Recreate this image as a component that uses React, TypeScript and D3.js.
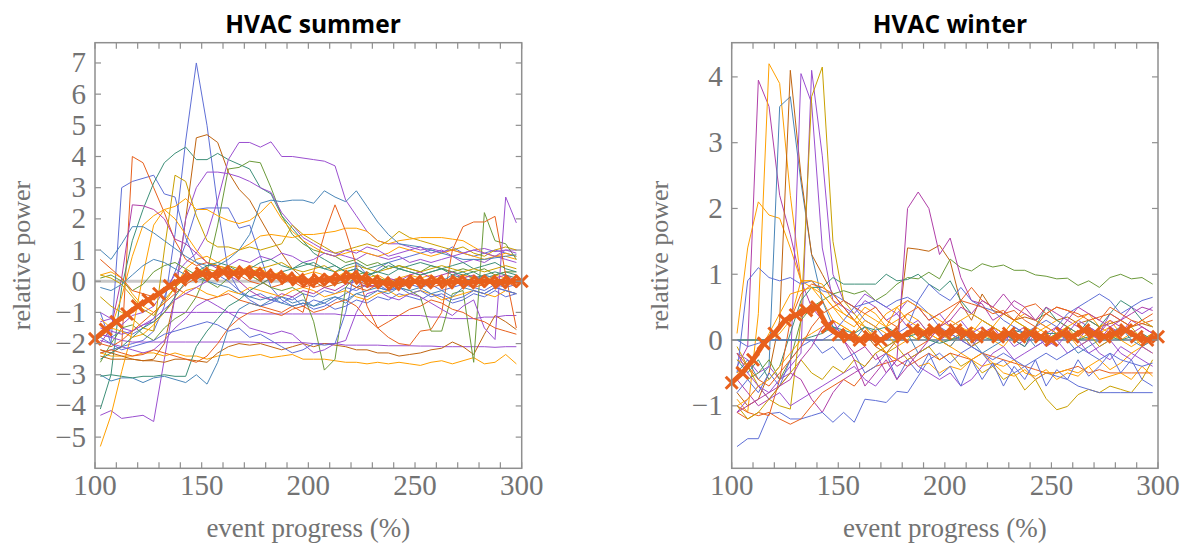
import React from 'react';
import * as d3 from 'd3';

// ---------- shared x grids ----------
const SAMPLE_X = [102.5, 107.5, 112.5, 117.5, 122.5, 127.5, 132.5, 137.5, 142.5, 147.5,
  152.5, 157.5, 162.5, 167.5, 172.5, 177.5, 182.5, 187.5, 192.5, 197.5,
  202.5, 207.5, 212.5, 217.5, 222.5, 227.5, 232.5, 237.5, 242.5, 247.5,
  252.5, 257.5, 262.5, 267.5, 272.5, 277.5, 282.5, 287.5, 292.5, 297.5];
const MEAN_X = [100, 105, 110, 115, 120, 125, 130, 135, 140, 145, 150, 155, 160, 165, 170, 175, 180, 185, 190, 195,
  200, 205, 210, 215, 220, 225, 230, 235, 240, 245, 250, 255, 260, 265, 270, 275, 280, 285, 290, 295, 300];
const X_TICKS = [100, 150, 200, 250, 300];
const X_MINOR = [110, 120, 130, 140, 160, 170, 180, 190, 210, 220, 230, 240, 260, 270, 280, 290];

// ---------- colours ----------
const C = {
  blue: '#5f6fd6', orange: '#ffa000', teal: '#3d8f78', red: '#e8601c', purple: '#9b4fd0',
  brown: '#c0640f', steel: '#4a86b8', gold: '#c9a000', magenta: '#b03fa8', olive: '#6b9a3a',
};

// ---------- HVAC summer ----------
const summerYTicks = [-5, -4, -3, -2, -1, 0, 1, 2, 3, 4, 5, 6, 7];
const s01 = [-2.3, -2.2, -2.1, -2.0, -1.9, -1.6, -0.8, 1.5, 4.5, 7.0, 5.0, 2.4, 0.3, -0.3, -0.6, -0.8, -0.7, -0.5, -0.6, -0.4, -0.5, -0.3, -0.4, -0.2, -0.3, -0.1, -0.2, -0.3, -0.2, -0.1, -0.2, -0.1, -0.3, -0.2, -0.1, -0.2, -0.3, -0.1, -0.2, -0.1];
const s02 = [-1.0, -2.0, 3.0, 3.2, 3.3, 3.4, 2.8, 2.7, 1.4, 0.6, 0.3, 0.2, 0.0, -0.3, -0.5, -0.4, -0.6, -0.7, -0.5, -0.8, -0.6, -0.7, -0.9, -0.8, -0.6, -0.7, -0.5, -0.6, -0.4, -0.5, -0.6, -0.4, -0.5, -0.7, -0.6, -0.4, -0.5, -0.3, -0.5, -0.4];
const s03 = [-1.7, -1.8, -1.6, -1.7, -1.5, -1.2, -0.5, 0.3, 1.2, 2.3, 2.35, 2.35, 2.35, 1.7, 1.8, 0.8, -0.2, -0.6, -0.8, -0.7, -0.9, -0.8, -0.6, -0.4, -0.2, 0.1, 0.4, 0.6, 0.7, 0.8, 0.9, 1.0, 0.9, 1.1, 0.9, 0.8, 0.9, 1.0, 0.9, 0.8];
const s04 = [-2.2, -2.3, -2.1, 4.0, 3.8, 3.0, 2.2, 1.3, 0.7, 0.5, 0.6, 0.5, 0.4, 0.3, 0.2, 0.0, -0.2, -0.1, 0.1, 0.0, -0.2, -0.1, 0.1, 0.2, 0.0, -0.1, -0.2, 0.0, 0.1, -0.1, 0.0, 0.1, -0.1, 0.0, 0.2, 0.1, 0.0, -0.1, 0.1, 0.0];
const s05 = [-4.1, -3.0, -0.2, 1.3, 2.3, 3.15, 3.8, 4.1, 4.3, 3.9, 3.9, 4.1, 3.9, 3.75, 3.6, 3.0, 2.8, 2.1, 1.7, 1.3, 0.9, 0.7, 0.5, 0.3, 0.4, 0.2, 0.3, 0.2, 0.4, 0.3, 0.2, 0.3, 0.4, 0.3, 0.2, 0.3, 0.1, 0.2, 0.3, 0.2];
const s06 = [-2.6, -2.0, -1.5, -1.4, -1.7, -1.9, -1.5, -1.2, -1.0, -0.5, 0.3, 1.8, 3.6, 3.65, 3.85, 3.8, 3.0, 2.1, 1.5, 1.2, 1.0, 0.9, 0.8, 0.6, 0.7, 0.5, 0.6, 0.4, 0.5, 0.4, 0.3, 0.5, 0.4, 0.3, 0.4, 0.3, 0.4, 0.2, 0.3, 0.3];
const s07 = [-2.4, -2.5, -2.5, -2.5, -2.55, -2.5, -2.0, -0.5, 2.0, 4.6, 4.7, 4.45, 3.5, 2.95, 2.6, 2.0, 1.4, 0.9, 0.4, 0.1, 0.0, -0.2, -0.1, 0.0, -0.2, -0.1, 0.0, -0.1, 0.1, 0.0, -0.1, 0.0, 0.1, -0.1, 0.0, 0.1, -0.1, 0.0, 0.1, 0.0];
const s08 = [-1.3, -1.2, -1.4, -1.1, -1.0, -0.8, -0.3, 0.2, 0.6, 0.9, 1.5, 2.6, 3.9, 4.45, 4.45, 4.3, 4.47, 4.0, 4.0, 3.95, 3.9, 3.85, 3.7, 2.6, 2.1, 1.6, 1.3, 1.2, 1.2, 1.1, 1.0, 1.05, 0.95, 1.0, 0.9, 1.0, 1.05, 0.95, 1.0, 1.0];
const s09 = [-4.3, -4.15, -4.4, -4.35, -4.3, -4.5, -2.5, -0.5, 2.0, 3.0, 3.5, 3.5, 3.45, 3.35, 3.2, 3.0, 2.85, 2.2, 1.8, 1.4, 1.2, 1.0, 0.9, 0.8, 0.7, 0.9, 0.8, 0.7, 0.8, 0.6, 0.7, 0.6, 0.7, 0.8, 0.6, 0.7, 0.6, 0.8, 0.7, 0.6];
const s10 = [-5.3, -4.3, -2.9, -1.6, 0.2, 1.8, 2.3, 2.0, 1.5, 1.0, 0.6, 0.5, 0.4, 0.3, 0.5, 0.4, 0.2, 0.3, 0.1, 0.2, 0.3, 0.2, 0.1, 0.3, 0.2, 0.1, 0.2, 0.0, 0.1, 0.2, 0.1, 0.2, 0.0, 0.1, 0.2, 0.1, 0.0, 0.2, 0.1, 0.0];
const s11 = [-0.5, -0.8, -1.0, -1.2, -1.5, -1.6, 1.0, 3.4, 3.2, 2.1, 1.3, 1.1, 1.1, 1.0, 1.1, 1.0, 1.1, 1.2, 1.8, 1.5, 1.3, 1.1, 0.9, 1.0, 1.1, 1.2, 1.1, 1.3, 1.6, 1.4, 1.3, 1.2, 1.1, 1.0, 1.1, 0.9, 0.8, 1.0, 1.1, 1.0];
const s12 = [-1.8, -1.5, -0.5, 0.8, 1.8, 2.1, 2.3, 2.4, 2.65, 2.3, 2.3, 2.1, 1.95, 1.85, 1.95, 2.2, 2.55, 2.0, 1.6, 1.3, 1.1, 0.9, 0.8, 0.9, 1.0, 0.9, 0.8, 0.9, 1.1, 1.0, 0.9, 0.8, 0.9, 1.0, 0.9, 0.8, 0.7, 0.8, 0.9, 0.8];
const s13 = [0.2, 0.3, 0.1, -0.4, -0.8, -1.0, -0.7, -0.2, 0.4, 0.7, 0.8, 0.6, 0.8, 1.0, 1.2, 1.45, 1.5, 1.45, 1.4, 1.5, 1.5, 1.55, 1.6, 1.7, 1.7, 1.6, 1.3, 1.2, 1.3, 1.35, 1.4, 1.4, 1.4, 1.35, 1.3, 1.1, 0.9, 0.8, 0.8, 0.7];
const s14 = [1.0, 0.7, 1.2, 1.75, 1.75, 1.55, 1.3, 1.05, 0.8, 0.6, 0.5, 0.5, 0.7, 1.0, 1.5, 2.5, 2.6, 2.55, 2.6, 2.6, 2.5, 2.9, 2.7, 2.55, 2.9, 2.4, 1.9, 1.5, 1.2, 1.15, 1.1, 1.0, 0.9, 0.8, 0.7, 0.7, 0.7, 0.75, 0.8, 0.85];
const s15 = [-2.0, -1.5, 0.1, 2.45, 2.42, 2.3, 2.0, 1.35, 1.2, 0.9, 0.6, 0.4, 0.2, 0.0, -0.3, -0.5, -0.6, -0.4, -0.5, -0.3, -0.4, -0.2, -0.3, -0.1, 0.0, -0.2, -0.1, 0.1, 0.0, 0.2, 0.3, 0.1, 0.2, 0.3, 0.1, 0.2, 0.0, 0.1, 0.2, 0.0];
const s16 = [-1.7, -1.8, -1.9, -1.95, -1.95, -1.95, -1.95, -1.95, -1.95, -1.95, -1.95, -1.95, -1.95, -1.95, -1.95, -1.97, -1.97, -1.97, -1.97, -1.97, -2.0, -2.0, -2.0, -2.05, -2.05, -2.05, -2.05, -2.07, -2.07, -2.07, -2.08, -2.08, -2.1, -2.1, -2.1, -2.1, -2.1, -2.12, -2.1, -2.1];
const s17 = [-1.5, -1.6, -1.7, -1.6, -1.4, -1.3, -1.0, -1.0, -1.0, -1.0, -1.0, -1.0, -1.0, -1.0, -1.05, -1.05, -1.05, -1.05, -1.05, -1.05, -1.05, -1.05, -1.05, -1.1, -1.1, -1.1, -1.1, -1.1, -1.1, -1.1, -1.1, -1.15, -1.15, -1.2, -1.2, -1.2, -1.15, -1.15, -1.1, -1.1];
const s18 = [-2.3, -2.4, -2.4, -2.4, -2.3, -2.3, -2.4, -2.3, -2.4, -2.4, -2.5, -2.4, -2.35, -2.45, -2.4, -2.35, -2.45, -2.4, -2.35, -2.5, -2.5, -2.5, -2.55, -2.6, -2.6, -2.65, -2.6, -2.65, -2.6, -2.65, -2.7, -2.6, -2.55, -2.65, -2.55, -2.45, -2.65, -2.6, -2.35, -2.65];
const s19 = [-2.2, -2.3, -2.4, -2.5, -2.55, -2.55, -2.6, -2.5, -2.5, -2.55, -2.6, -2.3, -2.1, -2.0, -2.05, -2.0, -2.1, -2.2, -2.1, -2.0, -2.1, -2.0, -2.05, -2.1, -2.2, -2.2, -2.3, -2.3, -2.4, -2.35, -2.3, -2.2, -2.15, -1.95, -2.1, -2.35, -1.7, -1.1, -1.3, -1.55];
const s20 = [0.1, 0.2, 0.0, -0.3, -0.1, 0.3, 0.5, 0.6, 0.4, 0.2, 0.0, -0.2, 0.1, 0.3, 0.2, 0.0, -0.2, -0.3, -0.2, -0.4, -1.3, -2.85, -2.5, -0.2, 0.2, 0.3, 0.1, 0.0, -0.2, -0.3, -0.5, -1.6, -1.6, -0.4, -0.3, -2.6, 2.2, 1.3, 1.2, 0.7];
const s21 = [0.7, 0.4, 0.1, -0.3, -0.4, -0.5, -0.3, -0.2, -0.4, -0.5, -0.6, -0.5, -0.4, -0.6, -0.7, -0.8, -0.9, -1.0, -0.8, -1.0, 0.3, 1.5, 2.45, 1.6, 0.5, -0.8, -1.5, -1.8, -2.0, -2.05, -1.6, -1.55, -1.0, 1.0, 1.75, 1.9, 1.9, 2.08, 0.2, -1.5];
const s22 = [-1.9, -2.0, -2.1, -2.2, -2.3, -2.2, -1.9, -1.5, -1.2, -0.8, -0.6, -0.8, -1.0, -1.2, -1.5, -1.6, -1.7, -1.6, -1.7, -2.0, -2.3, -2.2, -2.0, -1.9, -1.0, -0.4, -0.3, -0.5, -0.6, -0.4, -0.5, -0.7, -0.9, -1.1, -0.8, -0.6, -1.5, -1.87, 2.7, 1.87];
const s23 = [-0.2, -0.3, -0.1, 0.2, 0.5, 0.7, 0.6, 0.4, 0.2, 0.1, 0.0, -0.1, -0.2, -0.4, -0.5, -0.6, -0.5, -0.7, -0.8, -0.7, -0.8, -0.6, -0.5, -0.7, -0.4, -0.3, -0.2, -0.3, -0.1, 0.0, 0.1, -0.1, 0.0, 0.2, 0.1, 0.0, 0.2, 0.1, -0.1, 0.0];
const s24 = [-1.2, -1.5, -1.6, -1.8, -1.7, -1.4, -1.0, -0.6, -0.3, -0.2, -0.4, -0.5, -0.3, -0.4, -0.2, -0.3, -0.4, -0.5, -0.3, -0.2, -0.3, -0.5, -0.4, -0.3, -0.5, -0.6, -0.4, -0.3, -0.5, -0.4, -0.3, -0.4, -0.6, -0.5, -0.4, -0.3, -0.4, -0.5, -0.3, -0.4];
const s25 = [-1.0, -1.2, -1.5, -1.6, -1.4, -1.2, -0.9, -0.6, -0.4, -0.2, 0.0, 0.3, 0.5, 0.7, 0.6, 0.8, 0.7, 0.9, 0.8, 0.6, 0.7, 0.9, 0.8, 1.0, 0.9, 1.1, 1.0, 0.8, 0.9, 1.0, 1.1, 0.9, 1.0, 0.8, 0.9, 1.0, 0.9, 0.8, 1.0, 0.9];
const s26 = [-2.0, -2.1, -1.9, -1.6, -1.3, -1.0, -0.7, -0.4, -0.1, 0.1, 0.2, 0.1, 0.3, 0.2, 0.0, -0.1, 0.1, 0.2, 0.0, -0.2, -0.1, 0.1, 0.2, 0.0, -0.2, -0.3, -0.1, 0.0, -0.2, -0.1, 0.0, -0.2, -0.1, 0.1, 0.0, -0.2, -0.1, 0.1, 0.0, -0.2];
const s27 = [-2.5, -2.3, -2.1, -1.8, -1.5, -1.3, -1.0, -0.5, 0.0, 0.3, 0.5, 0.6, 0.5, 0.3, 0.4, 0.6, 0.7, 0.5, 0.4, 0.6, 0.5, 0.4, 0.3, 0.5, 0.6, 0.4, 0.5, 0.6, 0.4, 0.5, 0.6, 0.5, 0.4, 0.5, 0.6, 0.4, 0.5, 0.6, 0.4, 0.3];
const s28 = [0.2, 0.1, -0.1, -0.5, -0.9, -1.1, -0.6, -0.2, 0.1, 0.3, 0.4, 0.3, 0.5, 0.4, 0.3, 0.4, 0.5, 0.6, 0.4, 0.3, 0.4, 0.5, 0.3, 0.4, 0.5, 0.4, 0.3, 0.4, 0.5, 0.4, 0.3, 0.4, 0.5, 0.4, 0.3, 0.4, 0.3, 0.4, 0.5, 0.4];
const s29 = [-3.0, -3.2, -3.1, -3.1, -3.25, -3.1, -3.05, -3.15, -3.25, -3.0, -3.3, -2.6, -1.5, -0.9, -0.7, -0.8, -0.6, -0.5, -0.7, -0.6, -0.8, -0.7, -0.5, -0.6, -0.4, -0.5, -0.3, -0.4, -0.2, -0.3, -0.2, -0.4, -0.3, -0.5, -0.2, -0.3, -0.4, -0.2, -0.3, -0.4];
const s30 = [-3.05, -3.0, -3.05, -3.1, -3.05, -3.05, -3.0, -3.05, -3.05, -2.1, -1.6, -1.2, -0.8, -0.6, -0.3, -0.1, 0.1, 0.3, 0.4, 0.5, 0.6, 0.4, 0.5, 0.3, 0.4, 0.2, 0.3, 0.5, 0.4, 0.3, 0.2, 0.3, 0.4, 0.2, 0.3, 0.1, 0.2, 0.3, 0.2, 0.1];
const s31 = [-2.3, -2.2, -2.3, -2.4, -2.35, -2.2, -2.3, -2.4, -2.5, -2.6, -2.4, -2.0, -1.5, -1.2, -1.0, -0.9, -1.0, -1.1, -0.9, -0.8, -1.0, -0.9, -0.7, -0.6, -0.8, -1.2, -1.5, -1.3, -1.1, -0.9, -0.8, -0.6, -0.7, -0.9, -1.0, -1.2, -1.3, -1.5, -1.6, -1.7];
const s32 = [-1.8, -2.0, -2.2, -2.1, -2.0, -1.9, -1.7, -1.6, -1.5, -1.4, -1.3, -1.4, -1.6, -1.5, -1.8, -1.7, -1.9, -2.1, -2.3, -2.2, -2.0, -2.05, -2.0, -1.0, 0.6, 0.2, -0.1, -0.3, -0.2, -0.4, -0.3, -0.5, -0.4, -0.6, -0.5, -0.3, -0.4, -0.2, -0.3, -0.4];
const summerSeries = [s01, s02, s03, s04, s05, s06, s07, s08, s09, s10, s11, s12, s13, s14, s15, s16,
  s17, s18, s19, s20, s21, s22, s23, s24, s25, s26, s27, s28, s29, s30, s31, s32];
const summerColors = [C.blue, C.blue, C.blue, C.red, C.teal, C.olive, C.brown, C.purple, C.purple, C.orange,
  C.gold, C.orange, C.orange, C.steel, C.magenta, C.purple, C.purple, C.orange, C.brown, C.olive,
  C.red, C.purple, C.steel, C.orange, C.purple, C.red, C.teal, C.gold, C.steel, C.teal, C.red, C.blue];
const summerMean = [-1.85, -1.55, -1.3, -1.05, -0.8, -0.6, -0.4, -0.15, 0.05, 0.15, 0.25, 0.2, 0.3, 0.25, 0.3, 0.25, 0.2, 0.15, 0.1, 0.05,
  0.0, 0.05, 0.05, 0.1, 0.15, 0.1, 0.0, -0.05, -0.1, -0.05, 0.0, -0.05, 0.0, -0.05, 0.0, -0.05, 0.0, 0.0, -0.05, 0.0, 0.0];

// ---------- HVAC winter ----------
const winterYTicks = [-1, 0, 1, 2, 3, 4];
const w01 = [-0.4, -0.1, 3.95, 3.55, 2.2, 1.6, 0.9, 0.5, 0.3, 0.2, 0.0, -0.2, -0.1, -0.3, -0.2, -0.4, -0.3, -0.2, -0.1, 0.0, 0.1, 0.0, -0.1, 0.1, 0.2, 0.0, 0.1, 0.2, 0.0, 0.1, 0.2, 0.1, 0.0, 0.2, 0.1, 0.3, 0.2, 0.1, 0.2, 0.1];
const w02 = [-0.9, -1.1, 0.4, 4.2, 3.9, 2.2, 0.9, 0.8, 0.6, 0.3, 0.2, 0.1, 0.0, 0.2, 0.1, -0.1, 0.0, 0.2, 0.1, 0.0, -0.1, 0.1, 0.2, 0.1, 0.0, -0.1, 0.1, 0.0, 0.2, 0.1, 0.0, 0.1, -0.1, 0.0, 0.1, 0.2, 0.0, -0.1, 0.0, 0.1];
const w03 = [0.1, 1.4, 2.1, 1.9, 1.85, 1.4, 0.9, 0.9, 0.7, 0.5, 0.4, 0.3, 0.5, 0.4, 0.2, 0.3, 0.4, 0.3, 0.1, 0.2, 0.3, 0.2, 0.1, 0.3, 0.2, 0.4, 0.3, 0.2, 0.1, 0.2, 0.3, 0.2, 0.1, 0.0, 0.2, 0.1, 0.0, 0.1, -0.1, 0.0];
const w04 = [-0.5, -0.3, -0.6, -0.4, 3.55, 3.7, 2.4, 1.3, 0.6, 0.2, 0.1, 0.0, 0.2, 0.1, -0.1, 0.0, 0.1, -0.2, -0.1, 0.0, -0.1, 0.1, 0.0, -0.2, -0.1, 0.0, 0.2, 0.1, -0.1, 0.0, 0.1, 0.0, -0.2, -0.1, 0.0, 0.1, 0.2, 0.0, -0.1, 0.0];
const w05 = [-0.8, -1.0, -0.9, -0.5, 0.3, 4.1, 2.5, 1.3, 1.0, 0.7, 0.5, 0.3, 0.1, -0.1, -0.2, 0.0, 1.4, 1.38, 1.35, 1.44, 1.2, 0.56, 0.3, 0.7, 0.45, 0.4, 0.3, 0.35, 0.3, 0.4, 0.3, 0.35, 0.25, 0.3, 0.2, 0.25, 0.3, 0.2, 0.25, 0.2];
const w06 = [-0.2, -0.3, -0.5, -0.4, -0.6, -0.5, 4.05, 3.6, 1.4, 0.6, 0.5, 0.4, 0.6, 0.5, 0.3, 0.4, 0.2, 0.3, 0.1, 0.2, 0.0, 0.1, -0.1, 0.0, 0.2, 0.1, 0.0, -0.1, 0.1, 0.0, 0.2, 0.1, 0.3, 0.2, 0.1, 0.4, 0.3, 0.5, 0.4, 0.5];
const w07 = [-1.1, -0.9, -0.7, -0.8, -0.6, -0.4, -0.2, 4.1, 2.8, 1.0, 0.6, 0.5, 0.7, 0.6, 0.5, 0.4, 0.6, 0.5, 0.3, 0.4, 0.2, 0.3, 0.1, 0.2, 0.0, 0.1, -0.1, 0.0, 0.1, -0.1, 0.0, -0.2, -0.1, 0.0, -0.2, -0.3, -0.1, -0.2, -0.3, -0.4];
const w08 = [-0.1, -0.4, -0.7, -0.9, -1.0, -1.05, 0.3, 3.7, 4.15, 1.5, 0.6, 0.4, 0.2, 0.0, -0.2, -0.1, -0.3, -0.2, -0.1, -0.3, -0.2, -0.4, -0.3, -0.5, -0.4, -0.6, -0.5, -0.76, -0.6, -0.89, -1.06, -1.01, -0.83, -0.75, -0.8, -0.7, -0.75, -0.8, -0.6, -0.3];
const w09 = [-0.4, -0.6, -0.5, -0.3, -0.6, -0.3, 0.3, 0.5, 0.6, 0.7, 0.75, 0.7, 0.75, 0.6, 0.7, 0.85, 0.95, 0.93, 1.03, 0.93, 1.23, 1.1, 1.05, 1.16, 1.11, 1.14, 1.06, 1.06, 0.99, 0.97, 0.93, 0.94, 0.83, 0.9, 0.8, 0.95, 1.0, 0.93, 0.95, 0.85];
const w10 = [-0.3, -0.5, -0.3, -0.6, -0.4, 0.1, 0.6, 0.8, 0.8, 0.95, 0.85, 0.85, 0.85, 0.85, 1.0, 0.9, 0.92, 1.0, 0.85, 0.75, 0.9, 0.6, 0.4, 0.3, 0.2, 0.1, 0.0, -0.1, 0.2, 0.5, 0.3, 0.2, 0.1, 0.3, 0.2, 0.4, 0.6, 0.5, 0.3, 0.2];
const w11 = [-0.6, -0.8, -1.0, -0.9, -0.7, -0.5, -0.6, -0.9, -1.1, -0.8, -0.6, -0.5, -0.4, -0.2, -0.5, -0.3, 2.0, 2.25, 2.0, 1.3, 1.55, 0.95, 0.6, 0.55, 0.3, 0.4, 0.6, 0.5, 0.3, 0.2, 0.1, 0.3, 0.2, 0.1, 0.0, 0.2, 0.1, 0.3, 0.2, 0.1];
const w12 = [-1.62, -1.5, -1.5, -1.12, -1.1, -1.2, -1.2, -1.15, -1.1, -1.25, -1.1, -1.25, -0.9, -0.92, -0.95, -0.78, -0.8, -0.55, -0.3, -0.2, -0.35, -0.2, -0.1, -0.2, -0.4, -0.3, -0.5, -0.4, -0.6, -0.5, -0.55, -0.6, -0.7, -0.75, -0.8, -0.8, -0.8, -0.8, -0.8, -0.8];
const w13 = [-0.5, 0.9, 1.1, 0.95, 0.9, 0.95, 0.85, 0.9, 0.75, 0.7, 0.6, 0.5, 0.3, 0.2, 0.0, 0.1, 0.2, 0.6, 0.85, 0.7, 0.6, 0.8, 0.6, 0.5, 0.45, 0.3, 0.2, 0.1, 0.2, 0.3, 0.2, 0.4, 0.5, 0.6, 0.7, 0.6, 0.4, 0.5, 0.6, 0.65];
const w14 = [-1.1, -1.2, -1.1, -1.15, -0.6, 0.3, 0.7, 0.85, 0.8, 0.7, 0.5, 0.3, 0.1, 0.0, -0.2, -0.3, -0.2, -0.1, 0.0, 0.2, 0.4, 0.6, 0.8, 0.6, 0.5, 0.4, 0.45, 0.3, 0.2, 0.4, 0.5, 0.45, 0.35, 0.4, 0.3, 0.5, 0.4, 0.3, 0.25, 0.3];
const w15 = [-1.0, -1.1, -1.15, -1.1, -1.2, -1.28, -1.2, -1.0, -0.8, -0.7, -0.6, -0.7, -0.5, -0.4, -0.35, -0.3, -0.4, -0.3, -0.2, -0.3, -0.2, -0.25, -0.3, -0.2, -0.25, -0.3, -0.35, -0.4, -0.45, -0.5, -0.5, -0.45, -0.4, -0.5, -0.45, -0.5, -0.5, -0.5, -0.5, -0.5];
const w16 = [-0.3, -0.4, -0.2, 0.0, 0.1, 0.3, 0.9, 0.9, 0.85, 0.6, 0.4, 0.3, 0.2, 0.0, -0.2, -0.3, -0.2, -0.4, -0.35, -0.5, -0.4, -0.45, -0.3, -0.4, -0.35, -0.5, -0.55, -0.45, -0.6, -0.5, -0.5, -0.45, -0.5, -0.4, -0.3, -0.45, -0.35, -0.2, -0.1, -0.2];
const w17 = [-1.0, -0.9, -0.7, -0.6, -0.4, -0.2, 0.0, 0.1, 0.2, 0.3, 0.2, 0.1, 0.3, 0.2, 0.4, 0.5, 0.3, 0.2, 0.1, 0.0, -0.1, -0.2, -0.3, -0.2, -0.35, -0.4, -0.3, -0.5, -0.55, -0.45, -0.6, -0.5, -0.55, -0.4, -0.6, -0.55, -0.5, -0.6, -0.4, -0.55];
const w18 = [-0.2, -0.5, -0.7, -0.9, -0.8, -1.0, -0.9, -0.8, -0.7, -0.6, -0.5, -0.4, -0.6, -0.7, -0.5, -0.3, -0.2, -0.4, -0.5, -0.6, -0.5, -0.7, -0.6, -0.4, -0.2, -0.1, -0.3, -0.2, -0.1, 0.0, -0.1, 0.1, 0.0, -0.2, -0.1, 0.0, -0.2, -0.3, -0.1, -0.2];
const w19 = [-0.8, -0.6, -0.8, -0.5, -0.7, -0.3, -0.1, 0.0, -0.2, -0.1, -0.3, -0.2, -0.5, -0.4, -0.2, -0.6, -0.3, -0.5, -0.2, -0.55, -0.4, -0.7, -0.3, -0.6, -0.35, -0.7, -0.4, -0.6, -0.3, -0.7, -0.45, -0.6, -0.3, -0.55, -0.4, -0.2, -0.5, -0.3, -0.6, -0.7];
const w20 = [-1.0, -1.2, -1.1, -0.9, -0.7, -0.5, -0.3, -0.5, -0.6, -0.4, -0.5, -0.3, -0.4, -0.2, -0.1, 0.0, 0.1, 0.0, 0.2, 0.1, 0.0, 0.1, -0.1, 0.0, 0.2, 0.1, 0.3, 0.2, 0.1, 0.0, 0.1, 0.2, 0.0, 0.1, -0.1, 0.0, 0.1, 0.2, 0.0, 0.1];
const w21 = [0.0, 0.0, 0.0, 0.0, 0.0, 0.0, 0.0, 0.05, 0.1, 0.2, 0.15, 0.1, 0.2, 0.15, 0.2, 0.1, 0.05, 0.1, 0.0, -0.05, 0.0, 0.05, 0.1, 0.05, 0.0, 0.1, 0.15, 0.1, 0.05, 0.1, 0.1, 0.05, 0.0, 0.05, 0.1, 0.05, 0.0, 0.05, 0.1, 0.0];
const w22 = [0.0, -0.1, -0.05, 0.0, 0.0, 0.0, 0.0, 0.0, 0.0, 0.1, 0.3, 0.5, 0.55, 0.6, 0.5, 0.6, 0.65, 0.55, 0.4, 0.2, 0.1, 0.0, -0.1, -0.2, -0.3, -0.2, -0.3, -0.4, -0.3, -0.2, -0.3, -0.2, -0.1, -0.2, -0.3, -0.2, -0.3, -0.35, -0.4, -0.35];
const w23 = [-0.5, -0.4, -0.2, 0.1, 0.4, 0.7, 0.75, 0.8, 0.7, 0.5, 0.3, 0.2, 0.4, 0.3, 0.2, 0.5, 0.6, 0.5, 0.4, 0.3, 0.2, 0.3, 0.4, 0.3, 0.2, 0.1, 0.3, 0.4, 0.3, 0.2, 0.1, 0.2, 0.3, 0.4, 0.2, 0.3, 0.1, 0.2, 0.3, 0.2];
const w24 = [-1.1, -1.0, -0.9, -0.8, -0.7, -0.6, -0.3, -0.1, 0.2, 0.3, 0.0, -0.3, -0.7, -0.5, -0.3, -0.6, -0.4, -0.2, 0.0, 0.2, 0.3, 0.5, 0.4, 0.6, 0.5, 0.7, 0.5, 0.4, 0.3, 0.5, 0.4, 0.3, 0.5, 0.4, 0.3, 0.2, 0.3, 0.4, 0.5, 0.45];
const w25 = [-0.2, -0.4, -0.6, -0.7, -0.5, -0.3, -0.1, 0.2, 0.4, 0.5, 0.6, 0.5, 0.4, 0.5, 0.3, 0.2, 0.4, 0.5, 0.3, 0.4, 0.5, 0.6, 0.55, 0.5, 0.4, 0.45, 0.3, 0.5, 0.55, 0.4, 0.5, 0.45, 0.4, 0.3, 0.35, 0.4, 0.3, 0.2, 0.3, 0.4];
const winterSeries = [w01, w02, w03, w04, w05, w06, w07, w08, w09, w10, w11, w12, w13, w14, w15, w16, w17,
  w18, w19, w20, w21, w22, w23, w24, w25];
const winterColors = [C.magenta, C.orange, C.orange, C.steel, C.brown, C.purple, C.purple, C.gold, C.olive, C.teal,
  C.magenta, C.blue, C.blue, C.red, C.red, C.orange, C.orange, C.purple, C.blue, C.gold, C.teal, C.blue,
  C.orange, C.magenta, C.red];
const winterMean = [-0.65, -0.5, -0.3, -0.05, 0.1, 0.3, 0.38, 0.45, 0.5, 0.2, 0.08, 0.05, 0.0, 0.05, 0.0, 0.1, 0.05, 0.15, 0.1, 0.15,
  0.1, 0.15, 0.1, 0.05, 0.1, 0.05, 0.1, 0.05, 0.1, 0.05, 0.0, 0.1, 0.05, 0.15, 0.1, 0.05, 0.1, 0.15, 0.05, 0.0, 0.05];

// ---------- layout ----------
const TOP = 42.7;
const BOTTOM = 468.3;
const AXIS_GRAY = '#8f8f8f';
const TEXT_GRAY = '#737373';
const MEAN_COLOR = '#e8601c';

type PanelProps = {
  title: string;
  left: number;
  right: number;
  yDomain: [number, number];
  yTicks: number[];
  series: number[][];
  colors: string[];
  mean: number[];
  titleX: number;
  yLabelX: number;
  zeroColor: string;
  zeroWidth: number;
};

const fmt = (v: number) => (v < 0 ? '\u2212' + Math.abs(v) : String(v));

function Panel(p: PanelProps) {
  const x = d3.scaleLinear().domain([100, 300]).range([p.left, p.right]);
  const y = d3.scaleLinear().domain(p.yDomain).range([BOTTOM, TOP]);
  const thin = d3.line<number>().x((_, i) => x(SAMPLE_X[i])).y((d) => y(d));
  const meanLine = d3.line<number>().x((_, i) => x(MEAN_X[i])).y((d) => y(d));
  const tickLen = 6;
  const allX = [...X_TICKS, ...X_MINOR];
  const font = "'Liberation Serif', 'Times New Roman', serif";
  return (
    <g>
      <text x={p.titleX} y={33} textAnchor="middle" fontFamily="'Open Sans', 'Liberation Sans', sans-serif"
        fontWeight={700} fontSize={24.5} fill="#000">{p.title}</text>
      {/* zero reference */}
      <line x1={x(100)} x2={x(300)} y1={y(0)} y2={y(0)} stroke={p.zeroColor} strokeWidth={p.zeroWidth} />
      {/* individual event curves */}
      {p.series.map((s, i) => (
        <path key={i} d={thin(s) || ''} fill="none" stroke={p.colors[i % p.colors.length]} strokeWidth={1} strokeLinejoin="round" />
      ))}
      {/* mean curve */}
      <path d={meanLine(p.mean) || ''} fill="none" stroke={MEAN_COLOR} strokeWidth={5} strokeLinejoin="round" />
      {p.mean.map((v, i) => (
        <path key={'m' + i} transform={`translate(${x(MEAN_X[i])},${y(v)})`} d="M-6,-6L6,6M-6,6L6,-6"
          stroke={MEAN_COLOR} strokeWidth={3} fill="none" />
      ))}
      {/* frame */}
      <rect x={p.left} y={TOP} width={p.right - p.left} height={BOTTOM - TOP} fill="none" stroke={AXIS_GRAY} strokeWidth={1.5} />
      {allX.map((t) => (
        <g key={'xt' + t}>
          <line x1={x(t)} x2={x(t)} y1={BOTTOM} y2={BOTTOM - tickLen} stroke={AXIS_GRAY} strokeWidth={1.2} />
          <line x1={x(t)} x2={x(t)} y1={TOP} y2={TOP + tickLen} stroke={AXIS_GRAY} strokeWidth={1.2} />
        </g>
      ))}
      {p.yTicks.map((t) => (
        <g key={'yt' + t}>
          <line x1={p.left} x2={p.left + tickLen} y1={y(t)} y2={y(t)} stroke={AXIS_GRAY} strokeWidth={1.2} />
          <line x1={p.right} x2={p.right - tickLen} y1={y(t)} y2={y(t)} stroke={AXIS_GRAY} strokeWidth={1.2} />
          <text x={p.left - 9} y={y(t) + 9.5} textAnchor="end" fontFamily={font} fontSize={29} fill={TEXT_GRAY}>{fmt(t)}</text>
        </g>
      ))}
      {X_TICKS.map((t) => (
        <text key={'xl' + t} x={x(t)} y={495} textAnchor="middle" fontFamily={font} fontSize={29} fill={TEXT_GRAY}>{t}</text>
      ))}
      <text x={(p.left + p.right) / 2} y={537} textAnchor="middle" fontFamily={font} fontSize={27} fill={TEXT_GRAY}>event progress (%)</text>
      <text transform={`translate(${p.yLabelX},${(TOP + BOTTOM) / 2}) rotate(-90)`} textAnchor="middle"
        fontFamily={font} fontSize={26} fill={TEXT_GRAY}>relative power</text>
    </g>
  );
}

export default function App() {
  return (
    <svg width={1184} height={545} style={{ position: 'absolute', left: 0, top: 0, background: '#fff' }}>
      <rect width={1184} height={545} fill="#fff" />
      <Panel title="HVAC summer" left={95} right={521.7} yDomain={[-6, 7.65]} yTicks={summerYTicks}
        series={summerSeries} colors={summerColors} mean={summerMean} titleX={313} yLabelX={30}
        zeroColor="#c8c8c8" zeroWidth={3} />
      <Panel title="HVAC winter" left={731.7} right={1158} yDomain={[-1.95, 4.52]} yTicks={winterYTicks}
        series={winterSeries} colors={winterColors} mean={winterMean} titleX={950} yLabelX={668}
        zeroColor="#8a99a6" zeroWidth={2} />
    </svg>
  );
}
